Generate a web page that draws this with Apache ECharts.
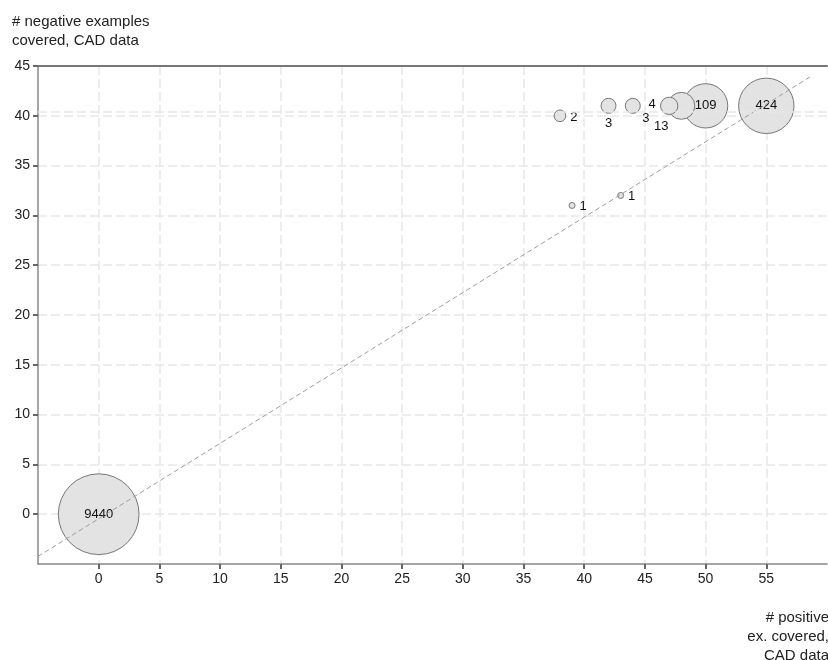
<!DOCTYPE html>
<html>
<head>
<meta charset="utf-8">
<script src="https://cdn.jsdelivr.net/npm/echarts@6/dist/echarts.min.js"></script>
<style>
  html, body { margin: 0; padding: 0; background: #fff; }
  #chart { width: 828px; height: 660px; }
</style>
</head>
<body>
<div id="chart"></div>
<script>
// Rule coverage on the CAD data: each bubble is a (positives, negatives) pair,
// sized by how many rules share that pair. Largest bubbles first so small ones sit on top.
const positiveCovered = [0, 55, 50, 48, 47, 44, 42, 38, 43, 39];
const negativeCovered = [0, 41, 41, 41, 41, 41, 41, 40, 32, 31];
const ruleCounts      = [9440, 424, 109, 13, 4, 3, 3, 2, 1, 1];

const xTickValues = [0, 5, 10, 15, 20, 25, 30, 35, 40, 45, 50, 55];
const yTickValues = [0, 5, 10, 15, 20, 25, 30, 35, 40, 45];

// dashed reference diagonal
const diagonalX = [-5, 58.6];
const diagonalY = [-4.24, 43.9];

// second faint guide just above the 40 grid line
const guideY = [40.4];

// label placement, pixel offsets from each bubble centre
const labelOffsets = [[0, 0], [0, 0], [0, 0], [-20, 21], [-17, -1], [13, 13], [0, 18], [14, 2], [11, 1], [11, 1]];

const FONT = '"Liberation Sans", Arial, sans-serif';
const gridDash = { type: [9, 4], color: '#e8e8e8', width: 1.5 };

const bubbleData = ruleCounts.map((c, i) => ({
  value: [positiveCovered[i], negativeCovered[i], c],
  label: { offset: labelOffsets[i] }
}));

const chart = echarts.init(document.getElementById('chart'), null, { renderer: 'canvas' });

chart.setOption({
  animation: false,
  backgroundColor: '#fff',
  grid: { left: 38, right: 1, top: 66, bottom: 96, containLabel: false },
  xAxis: [
    {
      type: 'value', min: -5, max: 60, interval: 5, position: 'bottom',
      axisLine: { show: true, onZero: false, lineStyle: { color: '#888', width: 1.5 } },
      axisTick: { show: true, customValues: xTickValues, length: 5, lineStyle: { color: '#666', width: 2 } },
      axisLabel: { customValues: xTickValues, fontSize: 14, fontFamily: FONT, color: '#222', margin: 8 },
      splitLine: { show: true, lineStyle: gridDash }
    },
    {
      type: 'value', min: -5, max: 60, position: 'top',
      axisLine: { show: true, onZero: false, lineStyle: { color: '#777', width: 2 } },
      axisTick: { show: false }, axisLabel: { show: false }, splitLine: { show: false }
    }
  ],
  yAxis: {
    type: 'value', min: -5, max: 45, interval: 5,
    axisLine: { show: true, onZero: false, lineStyle: { color: '#888', width: 1.5 } },
    axisTick: { show: true, customValues: yTickValues, length: 5, lineStyle: { color: '#666', width: 2 } },
    axisLabel: { customValues: yTickValues, fontSize: 14, fontFamily: FONT, color: '#222', margin: 8 },
    splitLine: { show: true, lineStyle: gridDash }
  },
  series: [
    {
      type: 'line', data: [], z: 1, silent: true,
      markLine: {
        silent: true, symbol: 'none', label: { show: false },
        lineStyle: gridDash,
        data: guideY.map(v => ({ yAxis: v }))
      }
    },
    {
      type: 'scatter', z: 2,
      data: bubbleData,
      symbolSize: v => 6 + 18.8 * Math.log10(v[2]),
      itemStyle: { color: '#e3e3e3', borderColor: '#777', borderWidth: 1, opacity: 1 },
      label: {
        show: true, position: 'inside',
        formatter: p => String(p.value[2]),
        fontSize: 13, fontFamily: FONT, color: '#111'
      }
    },
    {
      type: 'line', z: 3, silent: true,
      data: diagonalX.map((x, i) => [x, diagonalY[i]]),
      symbol: 'none',
      lineStyle: { type: [5, 3], color: '#9f9f9f', width: 1 }
    }
  ],
  graphic: [
    {
      type: 'text', x: 12, y: 12,
      style: { text: '# negative examples\ncovered, CAD data', font: '15px ' + FONT, fill: '#222', lineHeight: 19 }
    },
    {
      type: 'text', x: 829, y: 608,
      style: { text: '# positive\nex. covered,\nCAD data', font: '15px ' + FONT, fill: '#222', lineHeight: 19, align: 'right' }
    }
  ]
});
</script>
</body>
</html>
